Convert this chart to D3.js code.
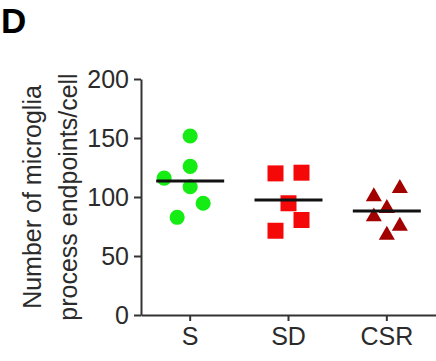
<!DOCTYPE html>
<html>
<head>
<meta charset="utf-8">
<script src="https://cdn.jsdelivr.net/npm/d3@7"></script>
<style>
  body { margin: 0; background: #fff; }
  svg text { font-family: "Liberation Sans", Arial, sans-serif; }
</style>
</head>
<body>
<svg id="chart" width="436" height="361"></svg>
<script>
// values
const groups = ["S", "SD", "CSR"];
const sValues = [151.7, 126, 116, 108.7, 94.7, 82.8];
const sdValues = [120, 120.6, 94.7, 80.5, 71.4];
const csrValues = [100.3, 107.4, 90.4, 83.3, 75.4, 67.8];
const means = [113.6, 97.5, 88.1];
const yTicks = [0, 50, 100, 150, 200];

// horizontal spread of the points (layout only, in symbol steps)
const spread = [
  [0, 0, -2, 0, 1, -1],
  [-1, 1, 0, 1, -1],
  [-1, 1, 0, -1, 1, 0]
];

const series = [sValues, sdValues, csrValues];
const colors = ["#14ec14", "#f50808", "#a30000"];
const shapes = [d3.symbolCircle, d3.symbolSquare, d3.symbolTriangle];
const sizes = [180, 256, 112];

const svg = d3.select("#chart");

const x = d3.scaleBand().domain(groups).range([141, 436]);
const y = d3.scaleLinear().domain([0, 200]).range([315, 79]);
const step = 13;

// y axis
const yAxis = svg.append("g")
  .attr("transform", "translate(141,0)")
  .call(d3.axisLeft(y).tickValues(yTicks).tickSize(7).tickSizeOuter(0).tickPadding(5));
yAxis.select(".domain").attr("stroke", "#333").attr("stroke-width", 2);
yAxis.selectAll(".tick line").attr("stroke", "#333").attr("stroke-width", 2);
yAxis.selectAll(".tick text").attr("font-size", 25).attr("fill", "#2b2b2b");

// x axis
const xAxis = svg.append("g")
  .attr("transform", "translate(0,315)")
  .call(d3.axisBottom(x).tickSize(6).tickSizeOuter(0).tickPadding(6));
xAxis.select(".domain").attr("stroke", "#333").attr("stroke-width", 2);
xAxis.selectAll(".tick line").attr("stroke", "#333").attr("stroke-width", 2);
xAxis.selectAll(".tick text").attr("font-size", 25).attr("fill", "#2b2b2b");

// points
series.forEach((vals, gi) => {
  const cx = x(groups[gi]) + x.bandwidth() / 2;
  svg.append("g")
    .selectAll("path")
    .data(vals)
    .enter()
    .append("path")
    .attr("d", d3.symbol().type(shapes[gi]).size(sizes[gi]))
    .attr("transform", (d, i) => "translate(" + (cx + spread[gi][i] * step) + "," + y(d) + ")")
    .attr("fill", colors[gi]);
});

// mean lines
svg.append("g")
  .selectAll("line")
  .data(means)
  .enter()
  .append("line")
  .attr("x1", (d, i) => x(groups[i]) + x.bandwidth() / 2 - 34)
  .attr("x2", (d, i) => x(groups[i]) + x.bandwidth() / 2 + 34)
  .attr("y1", d => y(d))
  .attr("y2", d => y(d))
  .attr("stroke", "#111")
  .attr("stroke-width", 3);

// y title
const title = svg.append("text")
  .attr("transform", "translate(0,197) rotate(-90)")
  .attr("text-anchor", "middle")
  .attr("font-size", 25)
  .attr("fill", "#2b2b2b");
title.append("tspan").attr("x", 0).attr("y", 41).text("Number of microglia");
title.append("tspan").attr("x", 0).attr("y", 77).text("process endpoints/cell");

// panel letter
svg.append("text")
  .attr("x", 1)
  .attr("y", 33)
  .attr("font-size", 35)
  .attr("font-weight", "bold")
  .attr("fill", "#000")
  .text("D");
</script>
</body>
</html>
